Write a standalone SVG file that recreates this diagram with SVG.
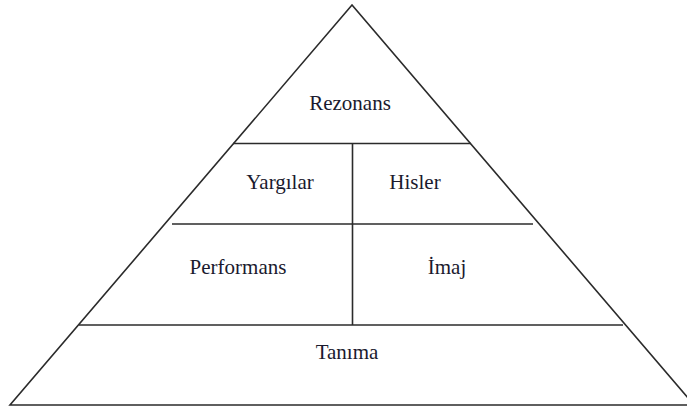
<svg xmlns="http://www.w3.org/2000/svg" width="687" height="411" viewBox="0 0 687 411">
<style>
.ln{stroke:#2b2b2b;stroke-width:1.6;fill:none}
.t{font-family:"Liberation Serif","Times New Roman",serif;font-size:21px;fill:#1a1a2e;text-anchor:middle}
</style>
<rect width="687" height="411" fill="#fff"/>
<g id="connectors">
<polygon class="ln" points="352,5 10,405 694,405"/>
<line class="ln" x1="233" y1="143.5" x2="471" y2="143.5"/>
<line class="ln" x1="172" y1="224" x2="533" y2="224"/>
<line class="ln" x1="79" y1="325" x2="623" y2="325"/>
<line class="ln" x1="352.5" y1="143.5" x2="352.5" y2="325"/>
</g>
<g id="rezonans"><text class="t" x="350" y="110">Rezonans</text></g>
<g id="yargilar"><text class="t" x="280" y="189">Yargılar</text></g>
<g id="hisler"><text class="t" x="415" y="189">Hisler</text></g>
<g id="performans"><text class="t" x="238" y="274">Performans</text></g>
<g id="imaj"><text class="t" x="447" y="274">İmaj</text></g>
<g id="tanima"><text class="t" x="347" y="359">Tanıma</text></g>
</svg>
